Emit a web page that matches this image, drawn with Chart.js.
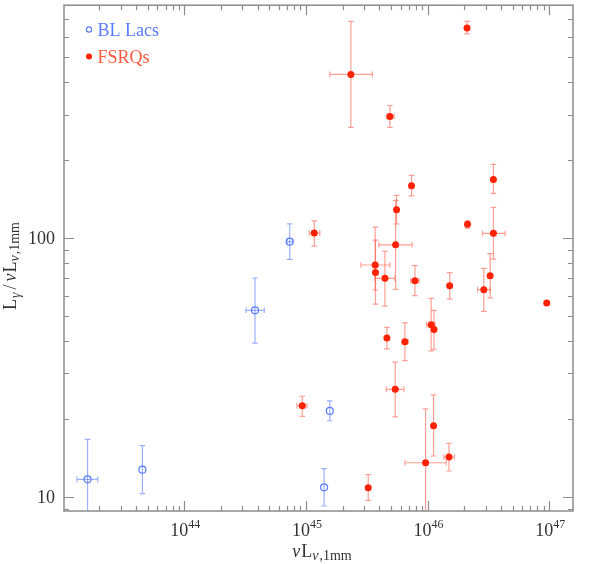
<!DOCTYPE html>
<html>
<head>
<meta charset="utf-8">
<script src="https://cdn.jsdelivr.net/npm/chart.js@4"></script>
<style>
html,body{margin:0;padding:0;background:#fff;}
#wrap{width:602px;height:564px;position:relative;}
</style>
</head>
<body>
<div id="wrap"><canvas id="c"></canvas></div>
<script>
// ---- Data ----
// BL Lacs
const blX    = [1.6e43, 4.52e43, 3.81e44, 7.35e44, 1.57e45, 1.41e45];
const blY    = [11.7, 12.75, 52.6, 96.8, 21.5, 10.9];
const blXlo  = [1.31e43, null, 3.21e44, 7.0e44, null, null];
const blXhi  = [1.94e43, null, 4.54e44, 7.75e44, null, null];
const blYlo  = [6.5, 10.3, 39.3, 82.7, 19.7, 9.23];
const blYhi  = [16.7, 15.8, 70.1, 113.5, 23.5, 12.86];

// FSRQs
const fsX   = [2.11e46, 2.34e45, 4.9e45, 7.38e45, 3.48e46, 5.56e45, 2.13e46, 1.17e45, 3.48e46, 5.46e45,
               3.71e45, 3.73e45, 4.46e45, 7.87e45, 3.27e46, 2.9e46, 1.52e46, 9.55e46, 1.07e46, 1.13e46,
               4.63e45, 6.51e45, 5.42e45, 9.33e44, 1.12e46, 1.5e46, 9.63e45, 3.25e45];
const fsY   = [648, 428.6, 295, 159.3, 168.5, 128.6, 113, 104.5, 104.3, 94.2,
               78.7, 73.7, 69.9, 68.4, 71.5, 63.2, 65.4, 56.1, 46.3, 44.3,
               41.1, 39.8, 26.05, 22.5, 18.85, 14.27, 13.56, 10.86];
const fsXlo = [null, 1.57e45, 4.63e45, null, null, null, null, 1.065e45, 2.83e46, 3.98e45,
               2.83e45, null, 3.69e45, 7.25e45, null, 2.58e46, null, null, 9.8e45, null,
               null, 6.2e45, 4.57e45, 8.44e44, null, 1.36e46, 6.51e45, null];
const fsXhi = [null, 3.51e45, 5.3e45, null, null, null, null, 1.30e45, 4.34e46, 7.47e45,
               4.9e45, null, 5.38e45, 8.53e45, null, 3.27e46, null, null, 1.15e46, null,
               null, 6.9e45, 6.38e45, 1.02e45, null, 1.66e46, 1.42e46, null];
const fsYlo = [615, 267.5, 267.5, 145.6, 148.8, 113.3, 109.3, 93.1, 82.9, 63.4,
               63, 55.6, 54.6, 59.9, 58.8, 52.1, 58.1, null, 36.7, 37.2,
               37.3, 33.6, 20.4, 20.5, 14.4, 12.6, 5, 9.7];
const fsYhi = [687, 687, 325, 174.6, 192.5, 146.2, 116.6, 116.6, 131.4, 139.8,
               110.3, 98.2, 89.1, 78.2, 87, 76.4, 73.5, null, 58.5, 52.6,
               45.2, 47, 33.2, 24.5, 24.8, 16.1, 21.9, 12.2];

// Axis ranges and tick labels
const xRange = [1.024e43, 1.57e47];
const yRange = [8.83, 793];
const xMajorExp = [44, 45, 46, 47];
const yMajor = [10, 100];
const yMajorLabels = ['10', '100'];

const seriesNames = ['BL Lacs', 'FSRQs'];

const BLUE = '#5a7cff', BLUE_ERR = 'rgba(90,124,255,0.6)';
const RED = '#ff2200', RED_ERR = 'rgba(255,70,50,0.52)';
const AXIS = '#8c8c8c';
const SERIF = '"Liberation Serif", "DejaVu Serif", serif';

function pts(xs, ys){ return xs.map((x,i)=>({x:x, y:ys[i]})); }

function drawRich(ctx, parts, x, y, align){
  let w = 0;
  parts.forEach(p=>{ ctx.font = (p.italic?'italic ':'') + p.size + 'px ' + SERIF; p.w = ctx.measureText(p.t).width + (p.gap||0); w += p.w; });
  let cx = align === 'center' ? x - w/2 : (align === 'right' ? x - w : x);
  ctx.textAlign = 'left';
  ctx.textBaseline = 'alphabetic';
  parts.forEach(p=>{ ctx.font = (p.italic?'italic ':'') + p.size + 'px ' + SERIF; ctx.fillText(p.t, cx, y + (p.dy||0)); cx += p.w; });
}

const errPlugin = {
  id: 'errbars',
  beforeDatasetsDraw(chart){
    const ctx = chart.ctx, xs = chart.scales.x, ys = chart.scales.y, a = chart.chartArea;
    ctx.save();
    ctx.beginPath(); ctx.rect(a.left, a.top, a.right-a.left, a.bottom-a.top); ctx.clip();
    const groups = [
      [blX, blY, blXlo, blXhi, blYlo, blYhi, BLUE_ERR],
      [fsX, fsY, fsXlo, fsXhi, fsYlo, fsYhi, RED_ERR]
    ];
    const cap = 2.8;
    groups.forEach(g=>{
      const [X,Y,XL,XH,YL,YH,col] = g;
      ctx.strokeStyle = col; ctx.lineWidth = 1.2;
      X.forEach((xv,i)=>{
        const px = xs.getPixelForValue(xv), py = ys.getPixelForValue(Y[i]);
        if (YL[i] != null){
          const y1 = ys.getPixelForValue(YL[i]), y2 = ys.getPixelForValue(YH[i]);
          ctx.beginPath();
          ctx.moveTo(px, y1); ctx.lineTo(px, y2);
          ctx.moveTo(px-cap, y1); ctx.lineTo(px+cap, y1);
          ctx.moveTo(px-cap, y2); ctx.lineTo(px+cap, y2);
          ctx.stroke();
        }
        if (XL[i] != null){
          const x1 = xs.getPixelForValue(XL[i]), x2 = xs.getPixelForValue(XH[i]);
          ctx.beginPath();
          ctx.moveTo(x1, py); ctx.lineTo(x2, py);
          ctx.moveTo(x1, py-cap); ctx.lineTo(x1, py+cap);
          ctx.moveTo(x2, py-cap); ctx.lineTo(x2, py+cap);
          ctx.stroke();
        }
      });
    });
    ctx.restore();
  },
  afterDraw(chart){
    const ctx = chart.ctx, xs = chart.scales.x, ys = chart.scales.y, a = chart.chartArea;
    ctx.save();
    // frame
    ctx.strokeStyle = AXIS; ctx.lineWidth = 1.5;
    ctx.strokeRect(a.left, a.top, a.right-a.left, a.bottom-a.top);
    ctx.lineWidth = 1.2;
    const MAJ = 10, MIN = 5;
    // x ticks (bottom & top, inward)
    for (let e = 43; e <= 47; e++){
      for (let m = 1; m <= 9; m++){
        const v = m * Math.pow(10, e);
        if (v < xRange[0] || v > xRange[1]) continue;
        const px = Math.round(xs.getPixelForValue(v)) + 0.5;
        const L = m === 1 ? MAJ : MIN;
        ctx.beginPath();
        ctx.moveTo(px, a.bottom); ctx.lineTo(px, a.bottom - L);
        ctx.moveTo(px, a.top); ctx.lineTo(px, a.top + L);
        ctx.stroke();
      }
    }
    // y ticks (left & right, inward)
    for (let e = 0; e <= 2; e++){
      for (let m = 1; m <= 9; m++){
        const v = m * Math.pow(10, e);
        if (v < yRange[0] || v > yRange[1]) continue;
        const py = Math.round(ys.getPixelForValue(v)) + 0.5;
        const L = m === 1 ? MAJ : MIN;
        ctx.beginPath();
        ctx.moveTo(a.left, py); ctx.lineTo(a.left + L, py);
        ctx.moveTo(a.right, py); ctx.lineTo(a.right - L, py);
        ctx.stroke();
      }
    }
    // tick labels
    ctx.fillStyle = '#333';
    yMajor.forEach((v,i)=>{
      const py = ys.getPixelForValue(v);
      drawRich(ctx, [{t:yMajorLabels[i], size:18}], a.left - 9, py + 6, 'right');
    });
    xMajorExp.forEach(e=>{
      const px = xs.getPixelForValue(Math.pow(10, e));
      drawRich(ctx, [{t:'10', size:18}, {t:String(e), size:12, dy:-8}], px + 1, 536, 'center');
    });
    // axis titles
    drawRich(ctx, [{t:'ν', size:18, italic:true, gap:1}, {t:'L', size:18}, {t:'ν', size:14, italic:true, dy:3, gap:1}, {t:',1mm', size:14, dy:3, gap:0}], 322, 557, 'center');
    ctx.save();
    ctx.translate(16, 266);
    ctx.rotate(-Math.PI/2);
    drawRich(ctx, [{t:'L', size:18, gap:1}, {t:'γ', size:14, italic:true, dy:4, gap:3}, {t:'/', size:18, gap:3}, {t:'ν', size:18, italic:true, gap:1}, {t:'L', size:18}, {t:'ν', size:14, italic:true, dy:3, gap:1}, {t:',1mm', size:14, dy:3}], 0, 0, 'center');
    ctx.restore();
    // legend
    ctx.strokeStyle = BLUE; ctx.lineWidth = 1.2;
    ctx.beginPath(); ctx.arc(89, 29.5, 2.6, 0, Math.PI*2); ctx.stroke();
    ctx.fillStyle = BLUE;
    drawRich(ctx, [{t:seriesNames[0], size:18}], 97.5, 35.5, 'left');
    ctx.fillStyle = RED;
    ctx.beginPath(); ctx.arc(89, 56.5, 3, 0, Math.PI*2); ctx.fill();
    ctx.fillStyle = '#ff5a40';
    drawRich(ctx, [{t:seriesNames[1], size:18}], 97.5, 62.5, 'left');
    ctx.restore();
  }
};

new Chart(document.getElementById('c'), {
  type: 'scatter',
  data: {
    datasets: [
      { label: seriesNames[0], data: pts(blX, blY), pointRadius: 3.5, pointBorderWidth: 1.2,
        pointBackgroundColor: 'rgba(0,0,0,0)', pointBorderColor: BLUE, showLine: false },
      { label: seriesNames[1], data: pts(fsX, fsY), pointRadius: 3.5, pointBorderWidth: 0,
        pointBackgroundColor: RED, pointBorderColor: RED, showLine: false }
    ]
  },
  options: {
    responsive: true,
    maintainAspectRatio: false,
    animation: false,
    events: [],
    layout: { padding: { left: 64, right: 29, top: 5, bottom: 53 } },
    plugins: { legend: { display: false }, tooltip: { enabled: false } },
    scales: {
      x: { type: 'logarithmic', min: xRange[0], max: xRange[1], display: false },
      y: { type: 'logarithmic', min: yRange[0], max: yRange[1], display: false }
    }
  },
  plugins: [errPlugin]
});
</script>
</body>
</html>
